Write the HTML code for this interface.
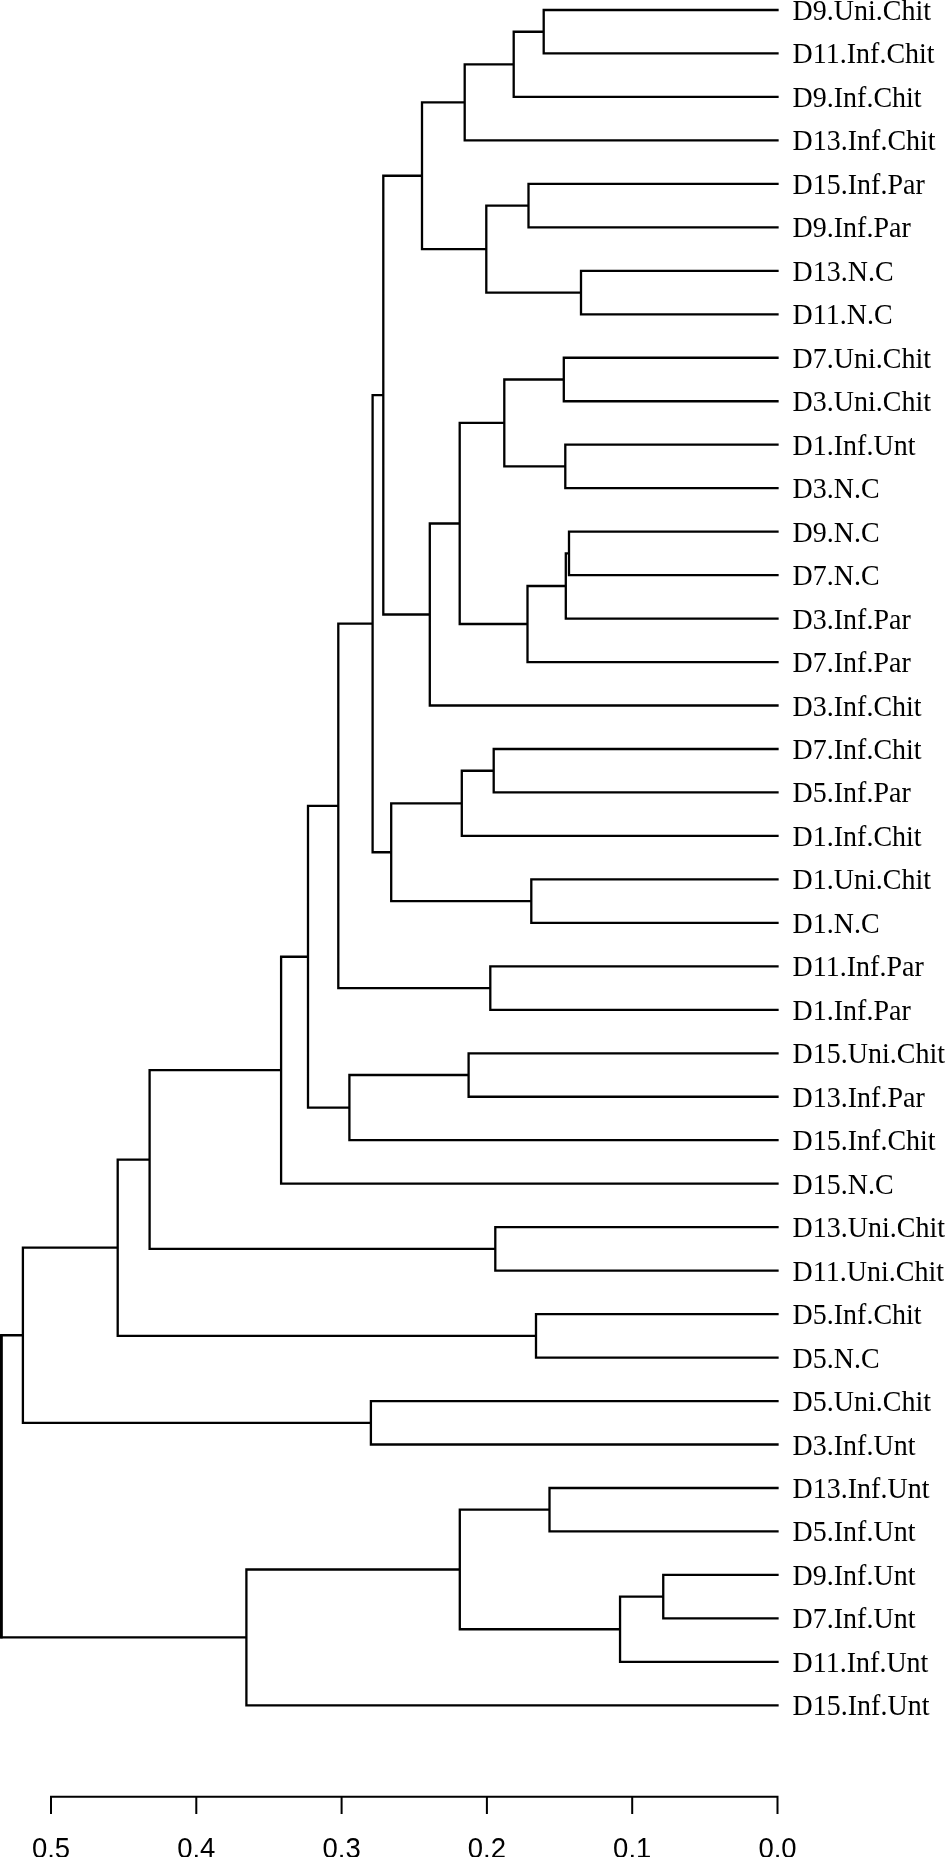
<!DOCTYPE html>
<html><head><meta charset="utf-8"><style>
html,body{margin:0;padding:0;background:#fff;}
body{width:945px;height:1857px;overflow:hidden;}
svg{display:block;}
.l{will-change:transform;font-family:"Liberation Serif",serif;font-size:28px;fill:#000;}
.a{will-change:transform;font-family:"Liberation Sans",sans-serif;font-size:27.5px;fill:#000;}
</style></head><body>
<svg width="945" height="1857" viewBox="0 0 945 1857">
<path d="M22.90 1335.24H1.30V1637.41H246.40M117.70 1247.70H22.90V1422.78H370.90M149.60 1159.56H117.70V1335.84H536.00M281.10 1070.22H149.60V1248.89H495.30M308.00 956.75H281.10V1183.69H777.50M338.30 805.87H308.00V1107.62H349.40M372.60 623.67H338.30V988.07H490.30M383.30 395.12H372.60V852.23H391.20M422.00 175.73H383.30V614.50H429.80M464.70 102.37H422.00V249.08H486.30M513.70 64.34H464.70V140.41H777.50M543.70 31.73H513.70V96.94H777.50M777.50 10.00H543.70V53.47H777.50M528.50 205.62H486.30V292.55H581.00M777.50 183.88H528.50V227.35H777.50M777.50 270.82H581.00V314.29H777.50M459.70 523.49H429.80V705.52H777.50M504.30 422.96H459.70V624.01H527.50M563.80 379.50H504.30V466.43H565.30M777.50 357.76H563.80V401.23H777.50M777.50 444.70H565.30V488.17H777.50M565.80 585.98H527.50V662.05H777.50M569.00 553.38H565.80V618.58H777.50M777.50 531.64H569.00V575.11H777.50M461.80 803.33H391.20V901.13H531.30M493.70 770.73H461.80V835.93H777.50M777.50 748.99H493.70V792.46H777.50M777.50 879.40H531.30V922.87H777.50M777.50 966.34H490.30V1009.81H777.50M468.60 1075.01H349.40V1140.22H777.50M777.50 1053.28H468.60V1096.75H777.50M777.50 1227.16H495.30V1270.63H777.50M777.50 1314.10H536.00V1357.57H777.50M777.50 1401.04H370.90V1444.51H777.50M459.80 1569.49H246.40V1705.33H777.50M549.50 1509.72H459.80V1629.26H620.05M777.50 1487.98H549.50V1531.45H777.50M663.25 1596.65H620.05V1661.86H777.50M777.50 1574.92H663.25V1618.39H777.50" fill="none" stroke="#000" stroke-width="2.3" stroke-linecap="square"/>
<path d="M51.00 1796.8H777.50M51.00 1796.8V1813M196.30 1796.8V1813M341.60 1796.8V1813M486.90 1796.8V1813M632.20 1796.8V1813M777.50 1796.8V1813" fill="none" stroke="#000" stroke-width="2" stroke-linecap="square"/>
<rect x="0" y="1334.24" width="2.7" height="304.17" fill="#000"/>
<g class="l"><text transform="translate(792.6 20.00) scale(1 1.045)">D9.Uni.Chit</text><text transform="translate(792.6 63.47) scale(1 1.045)">D11.Inf.Chit</text><text transform="translate(792.6 106.94) scale(1 1.045)">D9.Inf.Chit</text><text transform="translate(792.6 150.41) scale(1 1.045)">D13.Inf.Chit</text><text transform="translate(792.6 193.88) scale(1 1.045)">D15.Inf.Par</text><text transform="translate(792.6 237.35) scale(1 1.045)">D9.Inf.Par</text><text transform="translate(792.6 280.82) scale(1 1.045)">D13.N.C</text><text transform="translate(792.6 324.29) scale(1 1.045)">D11.N.C</text><text transform="translate(792.6 367.76) scale(1 1.045)">D7.Uni.Chit</text><text transform="translate(792.6 411.23) scale(1 1.045)">D3.Uni.Chit</text><text transform="translate(792.6 454.70) scale(1 1.045)">D1.Inf.Unt</text><text transform="translate(792.6 498.17) scale(1 1.045)">D3.N.C</text><text transform="translate(792.6 541.64) scale(1 1.045)">D9.N.C</text><text transform="translate(792.6 585.11) scale(1 1.045)">D7.N.C</text><text transform="translate(792.6 628.58) scale(1 1.045)">D3.Inf.Par</text><text transform="translate(792.6 672.05) scale(1 1.045)">D7.Inf.Par</text><text transform="translate(792.6 715.52) scale(1 1.045)">D3.Inf.Chit</text><text transform="translate(792.6 758.99) scale(1 1.045)">D7.Inf.Chit</text><text transform="translate(792.6 802.46) scale(1 1.045)">D5.Inf.Par</text><text transform="translate(792.6 845.93) scale(1 1.045)">D1.Inf.Chit</text><text transform="translate(792.6 889.40) scale(1 1.045)">D1.Uni.Chit</text><text transform="translate(792.6 932.87) scale(1 1.045)">D1.N.C</text><text transform="translate(792.6 976.34) scale(1 1.045)">D11.Inf.Par</text><text transform="translate(792.6 1019.81) scale(1 1.045)">D1.Inf.Par</text><text transform="translate(792.6 1063.28) scale(1 1.045)">D15.Uni.Chit</text><text transform="translate(792.6 1106.75) scale(1 1.045)">D13.Inf.Par</text><text transform="translate(792.6 1150.22) scale(1 1.045)">D15.Inf.Chit</text><text transform="translate(792.6 1193.69) scale(1 1.045)">D15.N.C</text><text transform="translate(792.6 1237.16) scale(1 1.045)">D13.Uni.Chit</text><text transform="translate(792.6 1280.63) scale(1 1.045)">D11.Uni.Chit</text><text transform="translate(792.6 1324.10) scale(1 1.045)">D5.Inf.Chit</text><text transform="translate(792.6 1367.57) scale(1 1.045)">D5.N.C</text><text transform="translate(792.6 1411.04) scale(1 1.045)">D5.Uni.Chit</text><text transform="translate(792.6 1454.51) scale(1 1.045)">D3.Inf.Unt</text><text transform="translate(792.6 1497.98) scale(1 1.045)">D13.Inf.Unt</text><text transform="translate(792.6 1541.45) scale(1 1.045)">D5.Inf.Unt</text><text transform="translate(792.6 1584.92) scale(1 1.045)">D9.Inf.Unt</text><text transform="translate(792.6 1628.39) scale(1 1.045)">D7.Inf.Unt</text><text transform="translate(792.6 1671.86) scale(1 1.045)">D11.Inf.Unt</text><text transform="translate(792.6 1715.33) scale(1 1.045)">D15.Inf.Unt</text></g>
<g class="a"><text text-anchor="middle" transform="translate(51.00 1858.0) scale(1 1.10)">0.5</text><text text-anchor="middle" transform="translate(196.30 1858.0) scale(1 1.10)">0.4</text><text text-anchor="middle" transform="translate(341.60 1858.0) scale(1 1.10)">0.3</text><text text-anchor="middle" transform="translate(486.90 1858.0) scale(1 1.10)">0.2</text><text text-anchor="middle" transform="translate(632.20 1858.0) scale(1 1.10)">0.1</text><text text-anchor="middle" transform="translate(777.50 1858.0) scale(1 1.10)">0.0</text></g>
</svg>
</body></html>
